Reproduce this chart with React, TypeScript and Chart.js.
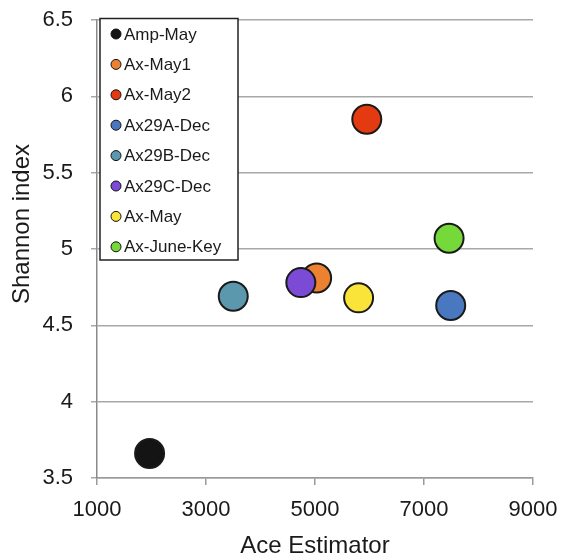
import React, { useEffect, useRef } from "react";
import { Chart, registerables } from "chart.js";

Chart.register(...registerables);

const sampleNames = ["Amp-May", "Ax-May1", "Ax-May2", "Ax29A-Dec", "Ax29B-Dec", "Ax29C-Dec", "Ax-May", "Ax-June-Key"];
const aceValues = [1965, 5030, 5950, 7490, 3500, 4740, 5800, 7460];
const shannonValues = [3.66, 4.81, 5.85, 4.63, 4.69, 4.78, 4.68, 5.07];
const sampleColors = ["#141414", "#EC8231", "#E33A12", "#4A78C0", "#5B98AE", "#7B4BD6", "#FBE43A", "#76D93A"];
const xTickValues = [1000, 3000, 5000, 7000, 9000];
const yTickValues = [3.5, 4, 4.5, 5, 5.5, 6, 6.5];
const xTitle = "Ace Estimator";
const yTitle = "Shannon index";

const FONT = "'Liberation Sans', Arial, Helvetica, sans-serif";
const TEXT = "#1a1a1a";

const legendPlugin = {
  id: "boxLegend",
  afterDraw(chart: any) {
    const ctx = chart.ctx;
    ctx.save();
    // y axis title
    ctx.font = `24px ${FONT}`;
    ctx.fillStyle = TEXT;
    ctx.translate(28.5, 224);
    ctx.rotate(-Math.PI / 2);
    ctx.textAlign = "center";
    ctx.textBaseline = "alphabetic";
    ctx.fillText(yTitle, 0, 0);
    ctx.restore();

    ctx.save();
    ctx.fillStyle = "#ffffff";
    ctx.fillRect(100, 18.5, 138, 241.5);
    ctx.lineWidth = 1.5;
    ctx.strokeStyle = "#222222";
    ctx.strokeRect(100, 18.5, 138, 241.5);
    ctx.font = `17px ${FONT}`;
    ctx.textAlign = "left";
    ctx.textBaseline = "middle";
    chart.data.datasets.forEach((ds: any, i: number) => {
      const y = 35 + i * 30.4;
      ctx.beginPath();
      ctx.arc(116, y - 1, 5, 0, Math.PI * 2);
      ctx.fillStyle = ds.backgroundColor;
      ctx.fill();
      ctx.lineWidth = 1;
      ctx.strokeStyle = "#111";
      ctx.stroke();
      ctx.fillStyle = TEXT;
      ctx.fillText(ds.label, 124, y);
    });
    ctx.restore();
  },
};

export default function App() {
  const ref = useRef<HTMLCanvasElement | null>(null);
  useEffect(() => {
    if (!ref.current) return;
    const datasets = sampleNames.map((name, i) => ({
      label: name,
      data: [{ x: aceValues[i], y: shannonValues[i] }],
      backgroundColor: sampleColors[i],
      borderColor: "#1a1a1a",
      borderWidth: 2,
      pointRadius: 14.5,
      pointHoverRadius: 14.5,
      order: sampleNames.length - i,
    }));
    const chart = new Chart(ref.current, {
      type: "scatter",
      data: { datasets },
      options: {
        animation: false,
        responsive: false,
        devicePixelRatio: 1,
        layout: { padding: { top: 20, right: 28, left: 0, bottom: 0 } },
        plugins: { legend: { display: false }, tooltip: { enabled: false } },
        scales: {
          x: {
            type: "linear",
            min: 1000,
            max: 9000,
            afterFit: (s: any) => { s.height = 82; s.paddingLeft = 0; s.paddingRight = 0; },
            afterBuildTicks: (s: any) => { s.ticks = xTickValues.map((v) => ({ value: v })); },
            ticks: {
              padding: 12,
              color: TEXT,
              font: { family: FONT, size: 22 },
              callback: (v: any) => String(v),
            },
            grid: { drawOnChartArea: false, drawTicks: true, tickLength: 7, color: "#9a9a9a", lineWidth: 1.5 },
            border: { display: true, color: "#9a9a9a", width: 1.5 },
            title: {
              display: true,
              text: xTitle,
              color: TEXT,
              font: { family: FONT, size: 24, lineHeight: 1.1 },
              padding: { top: 0, bottom: 0 },
            },
          },
          y: {
            type: "linear",
            min: 3.5,
            max: 6.5,
            afterFit: (s: any) => { s.width = 97; s.paddingTop = 0; s.paddingBottom = 0; },
            afterBuildTicks: (s: any) => { s.ticks = yTickValues.map((v) => ({ value: v })); },
            ticks: {
              padding: 18,
              color: TEXT,
              font: { family: FONT, size: 22 },
              callback: (v: any) => String(v),
            },
            grid: { drawTicks: true, tickLength: 6, color: "#a8a8a8", lineWidth: 1.5 },
            border: { display: true, color: "#8a8a8a", width: 1.5 },
          },
        },
      },
      plugins: [legendPlugin],
    });
    return () => chart.destroy();
  }, []);
  return (
    <div style={{ position: "fixed", left: 0, top: 0, width: 561, height: 560, background: "#fff" }}>
      <canvas ref={ref} width={561} height={560} />
    </div>
  );
}
